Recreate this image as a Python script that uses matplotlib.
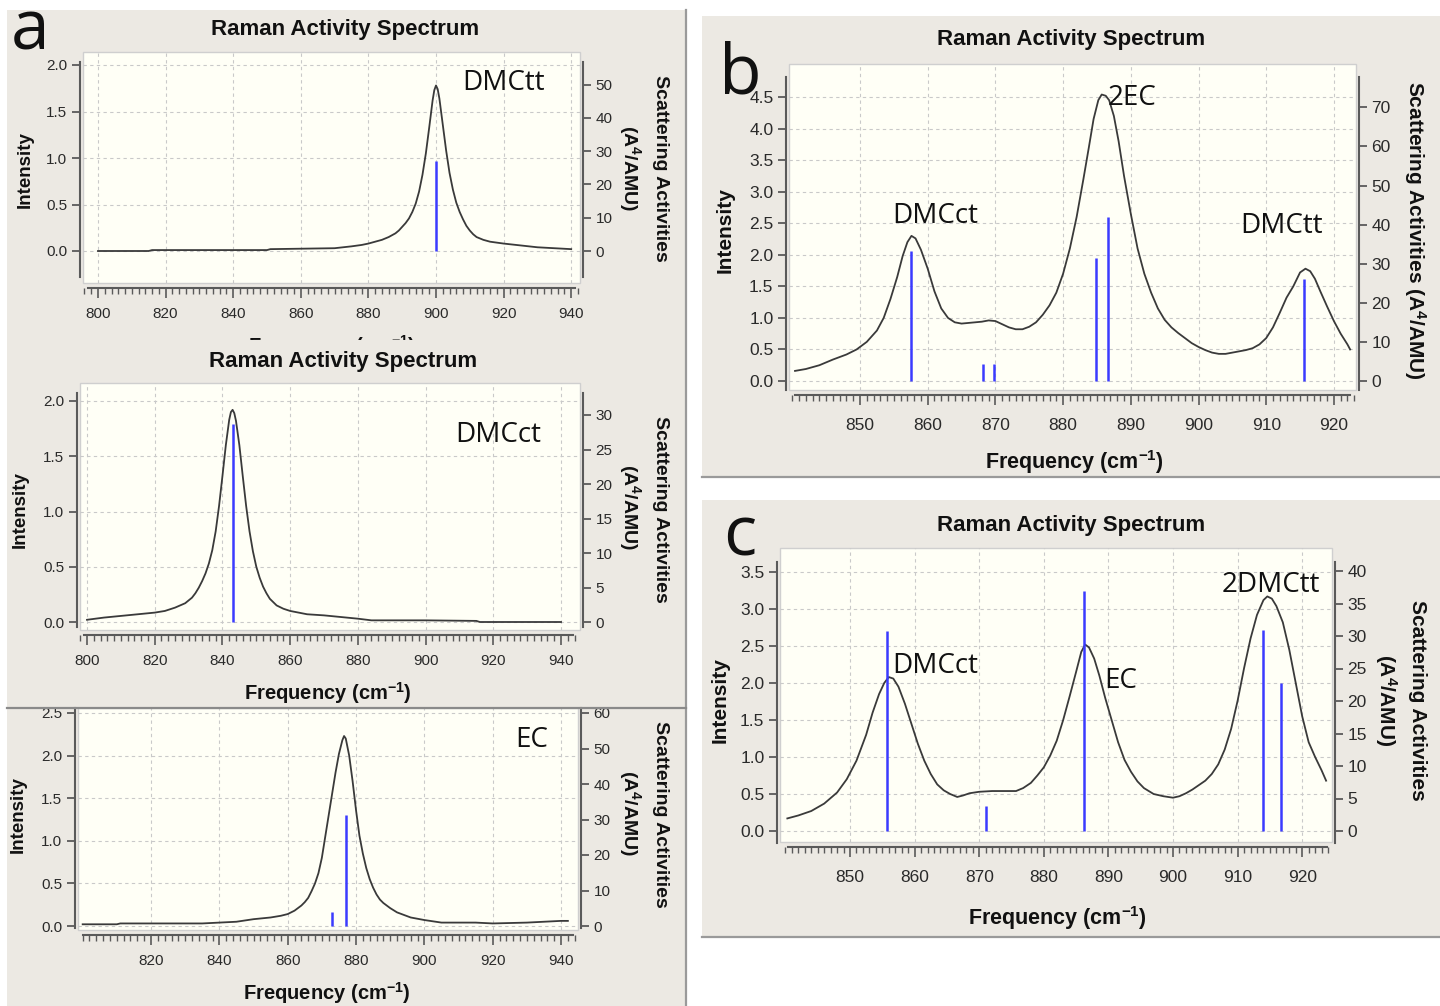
import numpy as np
import matplotlib
matplotlib.use('Agg')
import matplotlib.pyplot as plt
from matplotlib.patches import Rectangle
from matplotlib.lines import Line2D
from matplotlib.transforms import Bbox, TransformedBbox
from matplotlib.ticker import FixedLocator

# ---------------- data ----------------
# panel a, top: DMCtt
a1_freq = [800, 815, 816, 850, 851, 870, 875, 878, 880, 882, 884, 886, 887, 888, 889, 890, 891, 892, 893,
           894, 895, 896, 897, 898, 899, 899.5, 900, 900.5, 901, 902, 903, 904, 905, 906, 907, 908, 909,
           910, 911, 912, 914, 916, 920, 925, 930, 935, 940]
a1_int = [0.0, 0.0, 0.01, 0.01, 0.02, 0.03, 0.05, 0.065, 0.08, 0.1, 0.12, 0.15, 0.17, 0.19, 0.22, 0.26, 0.3,
          0.35, 0.42, 0.51, 0.64, 0.82, 1.05, 1.33, 1.62, 1.73, 1.78, 1.74, 1.64, 1.36, 1.08, 0.84, 0.66,
          0.52, 0.42, 0.34, 0.27, 0.22, 0.18, 0.15, 0.12, 0.1, 0.08, 0.06, 0.04, 0.03, 0.02]
a1_stick_freq = [900.0]
a1_stick_act = [27.0]

# panel a, middle: DMCct
a2_freq = [800, 805, 810, 815, 820, 823, 826, 829, 831, 832, 833, 834, 835, 836, 837, 838, 839, 840, 841,
           842, 842.5, 843, 843.5, 844, 845, 846, 847, 848, 849, 850, 851, 852, 853, 854, 856, 858, 860,
           865, 870, 875, 880, 884, 900, 915, 916, 940]
a2_int = [0.02, 0.04, 0.055, 0.07, 0.085, 0.1, 0.13, 0.17, 0.22, 0.26, 0.31, 0.37, 0.44, 0.53, 0.65, 0.82,
          1.05, 1.32, 1.6, 1.83, 1.9, 1.92, 1.89, 1.82, 1.6, 1.32, 1.05, 0.82, 0.64, 0.5, 0.4, 0.32, 0.26,
          0.21, 0.15, 0.12, 0.1, 0.07, 0.06, 0.045, 0.03, 0.015, 0.015, 0.01, 0.0, 0.0]
a2_stick_freq = [843.0]
a2_stick_act = [28.7]

# panel a, bottom: EC
a3_freq = [800, 810, 811, 835, 845, 850, 855, 858, 860, 862, 864, 865, 866, 867, 868, 869, 870, 871, 872,
           873, 874, 875, 876, 876.5, 877, 878, 879, 880, 881, 882, 883, 884, 885, 886, 887, 888, 890,
           892, 894, 896, 900, 905, 915, 920, 930, 940, 942]
a3_int = [0.02, 0.02, 0.03, 0.03, 0.05, 0.08, 0.1, 0.12, 0.14, 0.18, 0.24, 0.28, 0.33, 0.41, 0.5, 0.62,
          0.8, 1.05, 1.3, 1.55, 1.8, 2.02, 2.18, 2.23, 2.2, 2.0, 1.7, 1.36, 1.06, 0.85, 0.68, 0.55, 0.45,
          0.37, 0.31, 0.27, 0.21, 0.16, 0.13, 0.1, 0.07, 0.04, 0.04, 0.03, 0.04, 0.06, 0.06]
a3_stick_freq = [873.0, 877.0]
a3_stick_act = [4.0, 31.3]

# panel b: mixture (DMCct + 2EC + DMCtt)
b_freq = [840.4, 842, 844, 846, 848, 849.5, 851, 852.5, 853.5, 854.5, 855.5, 856.3, 857, 857.6, 858.2,
          859, 860, 861, 862, 863, 864, 865, 866, 867, 868, 869, 870, 871, 872, 873, 874, 875, 876, 877,
          878, 879, 880, 881, 882, 883, 883.8, 884.5, 885.2, 885.7, 886.3, 886.8, 887.5, 888.2, 889, 890,
          891, 892, 893, 894, 895, 896, 897, 898, 899, 900, 901, 902, 903, 904, 905, 906, 907, 908, 909,
          910, 911, 912, 913, 914, 915, 915.8, 916.5, 917.2, 918, 919, 920, 921, 922, 922.4]
b_int = [0.16, 0.19, 0.25, 0.34, 0.42, 0.5, 0.62, 0.8, 1.0, 1.3, 1.65, 1.98, 2.2, 2.3, 2.26,
         2.08, 1.78, 1.42, 1.15, 1.0, 0.93, 0.91, 0.92, 0.93, 0.94, 0.96, 0.95, 0.9, 0.85, 0.82, 0.82,
         0.86, 0.93, 1.05, 1.2, 1.4, 1.7, 2.1, 2.6, 3.2, 3.7, 4.15, 4.45, 4.54, 4.52, 4.45, 4.2, 3.8,
         3.25, 2.65, 2.1, 1.7, 1.4, 1.15, 0.97, 0.85, 0.76, 0.68, 0.6, 0.54, 0.49, 0.45, 0.43, 0.43,
         0.45, 0.47, 0.49, 0.52, 0.58, 0.68, 0.85, 1.08, 1.32, 1.5, 1.72, 1.78, 1.74, 1.62, 1.42, 1.18,
         0.95, 0.75, 0.58, 0.5]
b_stick_freq = [857.5, 868.1, 869.8, 884.8, 886.7, 915.6]
b_stick_act = [33.3, 4.3, 4.3, 31.5, 41.9, 26.2]

# panel c: mixture (DMCct + EC + 2DMCtt)
c_freq = [840.3, 842, 844, 846, 848, 849.5, 851, 852.5, 853.5, 854.5, 855.3, 856, 856.7, 857.5, 858.5,
          859.5, 860.5, 861.5, 862.5, 863.5, 864.5, 865.5, 866.6, 867.5, 868.5, 870, 872, 874, 875.7,
          876.8, 878, 879, 880, 881, 882, 883, 884, 885, 885.8, 886.4, 887, 887.8, 888.6, 889.5, 890.5,
          891.5, 892.5, 893.5, 894.5, 895.5, 897, 898.5, 900, 901, 902, 903, 904, 905, 906, 907, 908,
          909, 910, 911, 912, 913, 914, 914.6, 915.3, 916, 917, 918, 919, 920, 921, 922, 923, 923.7]
c_int = [0.17, 0.21, 0.27, 0.37, 0.52, 0.7, 0.95, 1.3, 1.6, 1.85, 2.0, 2.08, 2.06, 1.95, 1.72,
         1.45, 1.18, 0.95, 0.77, 0.63, 0.55, 0.5, 0.46, 0.48, 0.51, 0.53, 0.54, 0.54, 0.54,
         0.58, 0.65, 0.75, 0.86, 1.02, 1.22, 1.5, 1.82, 2.15, 2.42, 2.52, 2.48, 2.33, 2.1, 1.8, 1.5,
         1.2, 0.96, 0.8, 0.67, 0.58, 0.5, 0.47, 0.45, 0.47, 0.51, 0.56, 0.62, 0.68, 0.77, 0.9, 1.1,
         1.38, 1.76, 2.2, 2.6, 2.92, 3.12, 3.17, 3.14, 3.04, 2.82, 2.45, 2.0, 1.55, 1.2, 1.0, 0.82, 0.68]
c_stick_freq = [855.8, 871.1, 886.3, 913.9, 916.7]
c_stick_act = [30.8, 3.9, 36.9, 31.0, 22.8]

a1_yticks = [0.0, 0.5, 1.0, 1.5, 2.0]
a1_rticks = [0, 10, 20, 30, 40, 50]
a2_yticks = [0.0, 0.5, 1.0, 1.5, 2.0]
a2_rticks = [0, 5, 10, 15, 20, 25, 30]
a3_yticks = [0.0, 0.5, 1.0, 1.5, 2.0, 2.5]
a3_rticks = [0, 10, 20, 30, 40, 50, 60]
b_yticks = [0.0, 0.5, 1.0, 1.5, 2.0, 2.5, 3.0, 3.5, 4.0, 4.5]
b_rticks = [0, 10, 20, 30, 40, 50, 60, 70]
c_yticks = [0.0, 0.5, 1.0, 1.5, 2.0, 2.5, 3.0, 3.5]
c_rticks = [0, 5, 10, 15, 20, 25, 30, 35, 40]
a_xticks = [800, 820, 840, 860, 880, 900, 920, 940]
a3_xticks = [820, 840, 860, 880, 900, 920, 940]
bc_xticks = [850, 860, 870, 880, 890, 900, 910, 920]

# ---------------- styling ----------------
W, H = 1440, 1006
SANS = ['Liberation Sans', 'DejaVu Sans']
ANN = ['Open Sans', 'DejaVu Sans']
plt.rcParams['font.family'] = SANS
plt.rcParams['mathtext.fontset'] = 'custom'
plt.rcParams['mathtext.rm'] = 'Liberation Sans'
plt.rcParams['mathtext.bf'] = 'Liberation Sans:bold'
plt.rcParams['mathtext.default'] = 'bf'

GRAY = '#ECE9E3'
IVORY = '#FFFFF6'
AXC = '#5a5a5a'
CURVE = '#3a3a3a'
STICK = '#3b3bff'
GRID = '#c9c9c9'

fig = plt.figure(figsize=(14.4, 10.06), dpi=100)
fig.patch.set_facecolor('white')


def fx(x):
    return x / W


def fy(y):
    return 1 - y / H


def rect(x0, y0, x1, y1, color):
    fig.add_artist(Rectangle((fx(x0), fy(y1)), fx(x1) - fx(x0), fy(y0) - fy(y1),
                             transform=fig.transFigure, facecolor=color,
                             edgecolor='none', zorder=-10))


def hline(x0, x1, y, color='#9a9a9a', lw=1.6):
    fig.add_artist(Line2D([fx(x0), fx(x1)], [fy(y), fy(y)], transform=fig.transFigure,
                          color=color, lw=lw, zorder=5))


def vline(x, y0, y1, color='#9a9a9a', lw=1.6):
    fig.add_artist(Line2D([fx(x), fx(x)], [fy(y0), fy(y1)], transform=fig.transFigure,
                          color=color, lw=lw, zorder=5))


def txt(x, y, s, **kw):
    return fig.text(fx(x), fy(y), s, **kw)


# panel backgrounds
rect(7, 10, 686, 1006, GRAY)
rect(702, 16, 1440, 477, GRAY)
rect(702, 500, 1440, 937, GRAY)
vline(686, 10, 1006)
hline(702, 1440, 477)
hline(702, 1440, 937)


def panel(box, xref, yref, rref, yspan, xspan, xmajor, xminor_step, yticks, rticks,
          freq, inten, sfreq, sact, tick_fs, xpad):
    x0, x1, y0, y1 = box
    ax = fig.add_axes([fx(x0), fy(y1), fx(x1) - fx(x0), fy(y0) - fy(y1)])
    ax.set_facecolor(IVORY)
    ax.patch.set_edgecolor('#cfcfcf')
    ax.patch.set_linewidth(1.0)
    xv, xp, xs = xref
    xlo, xhi = xv - (xp - x0) / xs, xv + (x1 - xp) / xs
    ax.set_xlim(xlo, xhi)
    yv, yp, ys = yref
    ax.set_ylim(yv - (y1 - yp) / ys, yv + (yp - y0) / ys)
    ax2 = ax.twinx()
    rv, rp, rs = rref
    ax2.set_ylim(rv - (y1 - rp) / rs, rv + (rp - y0) / rs)

    ax.plot(freq, inten, color=CURVE, lw=1.3, zorder=3, solid_joinstyle='round')
    ax2.vlines(sfreq, 0, sact, color=STICK, lw=1.8, zorder=4)

    for s in ['top', 'right']:
        ax.spines[s].set_visible(False)
    for s in ['top', 'left', 'bottom']:
        ax2.spines[s].set_visible(False)
    ytop, ybot = yspan
    ax.spines['left'].set_position(('outward', 2.2))
    ax.spines['left'].set_bounds(yv - (ybot - yp) / ys, yv + (yp - ytop) / ys)
    ax2.spines['right'].set_position(('outward', 2.2))
    ax2.spines['right'].set_bounds(rv - (ybot - rp) / rs, rv + (rp - ytop) / rs)
    xl, xr = xspan
    ax.spines['bottom'].set_position(('outward', 3.6))
    ax.spines['bottom'].set_bounds(xv - (xp - xl) / xs, xv + (xr - xp) / xs)
    for sp in [ax.spines['left'], ax.spines['bottom'], ax2.spines['right']]:
        sp.set_color(AXC)
        sp.set_linewidth(1.5)

    ax.set_xticks(xmajor)
    ax.set_xticklabels([str(v) for v in xmajor])
    start = np.ceil(xlo / xminor_step) * xminor_step
    ax.xaxis.set_minor_locator(FixedLocator(np.arange(start, xhi, xminor_step)))
    ax.set_yticks(yticks)
    ax.set_yticklabels([f'{v:.1f}' for v in yticks])
    ax2.set_yticks(rticks)
    ax2.set_yticklabels([str(v) for v in rticks])

    ax.tick_params(axis='x', which='major', direction='out', length=7.5, width=1.2,
                   color=AXC, labelsize=tick_fs, labelcolor='#2a2a2a', pad=xpad)
    ax.tick_params(axis='x', which='minor', direction='out', length=4.3, width=1.0, color=AXC)
    ax.tick_params(axis='y', direction='out', length=5.5, width=1.3, color=AXC,
                   labelsize=tick_fs, labelcolor='#2a2a2a', pad=3.5)
    ax2.tick_params(axis='y', direction='out', length=5.5, width=1.3, color=AXC,
                    labelsize=tick_fs, labelcolor='#2a2a2a', pad=3.5)
    ax.grid(True, which='major', color=GRID, ls=(0, (3, 3)), lw=0.8)
    ax.set_axisbelow(True)
    return ax, ax2


TITLE = dict(ha='center', va='center', fontsize=16, fontweight='bold', color='#111111')
LAB = dict(ha='center', va='center', fontweight='bold', color='#111111')
NOTE = dict(ha='left', va='baseline', fontsize=20, family=ANN, color='#111111')
LET = dict(ha='center', va='baseline', fontsize=50, family=ANN, color='#111111')

# ---------- panel a top ----------
ax, ax2 = panel((83, 580, 52, 283), (800, 98, 3.38), (0, 251, 93), (0, 251, 3.33),
                (62, 277), (88, 575), a_xticks, 2, a1_yticks, a1_rticks,
                a1_freq, a1_int, a1_stick_freq, a1_stick_act, 11, 6)
txt(30, 50, 'a', **LET)
txt(345, 30, 'Raman Activity Spectrum', **TITLE)
txt(25, 170, 'Intensity', rotation=90, fontsize=13.5, **LAB)
txt(660, 168, 'Scattering Activities', rotation=-90, fontsize=14, **LAB)
txt(630, 168, '(A$^4$/AMU)', rotation=-90, fontsize=14, **LAB)
txt(462, 90, 'DMCtt', **NOTE)
clipped = txt(332, 346, 'Frequency (cm$^{-1}$)', fontsize=14.5, **LAB)
clipped.set_clip_box(TransformedBbox(Bbox([[0, fy(340)], [1, 1]]), fig.transFigure))
clipped.set_clip_on(True)

# ---------- panel a middle ----------
ax, ax2 = panel((80, 580, 383, 630), (800, 87, 3.386), (0, 622, 110.5), (0, 622, 6.9),
                (393, 627), (84, 573), a_xticks, 2, a2_yticks, a2_rticks,
                a2_freq, a2_int, a2_stick_freq, a2_stick_act, 11, 6)
txt(343, 362, 'Raman Activity Spectrum', **TITLE)
txt(20, 510, 'Intensity', rotation=90, fontsize=13.5, **LAB)
txt(660, 509, 'Scattering Activities', rotation=-90, fontsize=14, **LAB)
txt(630, 507, '(A$^4$/AMU)', rotation=-90, fontsize=14, **LAB)
txt(328, 693, 'Frequency (cm$^{-1}$)', fontsize=14.5, **LAB)
txt(455, 442, 'DMCct', **NOTE)

# ---------- panel a bottom ----------
ax, ax2 = panel((78, 578, 708, 930), (820, 151, 3.417), (0, 926, 85.2), (0, 926, 3.55),
                (708, 928), (83, 573), a3_xticks, 2, a3_yticks, a3_rticks,
                a3_freq, a3_int, a3_stick_freq, a3_stick_act, 11, 6)
clipbox = TransformedBbox(Bbox([[0, 0], [1, fy(708)]]), fig.transFigure)
for lab in list(ax.get_yticklabels()) + list(ax2.get_yticklabels()):
    lab.set_clip_box(clipbox)
    lab.set_clip_on(True)
txt(18, 815, 'Intensity', rotation=90, fontsize=13.5, **LAB)
txt(660, 814, 'Scattering Activities', rotation=-90, fontsize=14, **LAB)
txt(630, 813, '(A$^4$/AMU)', rotation=-90, fontsize=14, **LAB)
txt(327, 993, 'Frequency (cm$^{-1}$)', fontsize=14.5, **LAB)
txt(515, 747, 'EC', **NOTE)
hline(7, 686, 708, color='#8a8a8a', lw=1.6)

# ---------- panel b ----------
ax, ax2 = panel((789, 1356, 64, 390), (850, 860, 6.77), (0, 381, 63.1), (0, 381, 3.91),
                (77, 390), (795, 1350), bc_xticks, 1, b_yticks, b_rticks,
                b_freq, b_int, b_stick_freq, b_stick_act, 12.5, 9)
txt(740, 93, 'b', **LET)
txt(1071, 40, 'Raman Activity Spectrum', **TITLE)
txt(725, 230, 'Intensity', rotation=90, fontsize=15, **LAB)
txt(1415, 230, 'Scattering Activities (A$^4$/AMU)', rotation=-90, fontsize=15, **LAB)
txt(1074, 462, 'Frequency (cm$^{-1}$)', fontsize=15.5, **LAB)
txt(892, 223, 'DMCct', **NOTE)
txt(1108, 105, '2EC', **NOTE)
txt(1240, 233, 'DMCtt', **NOTE)

# ---------- panel c ----------
ax, ax2 = panel((780, 1332, 548, 842), (850, 850, 6.46), (0, 831, 74), (0, 831, 6.5),
                (562, 843), (788, 1327), bc_xticks, 1, c_yticks, c_rticks,
                c_freq, c_int, c_stick_freq, c_stick_act, 12.5, 9)
txt(740, 555, 'c', **LET)
txt(1071, 525, 'Raman Activity Spectrum', **TITLE)
txt(720, 700, 'Intensity', rotation=90, fontsize=15, **LAB)
txt(1418, 700, 'Scattering Activities', rotation=-90, fontsize=15, **LAB)
txt(1386, 700, '(A$^4$/AMU)', rotation=-90, fontsize=15, **LAB)
txt(1057, 918, 'Frequency (cm$^{-1}$)', fontsize=15.5, **LAB)
txt(892, 673, 'DMCct', **NOTE)
txt(1104, 688, 'EC', **NOTE)
txt(1222, 592, '2DMCtt', **NOTE)

fig.savefig('out.png', dpi=100)
